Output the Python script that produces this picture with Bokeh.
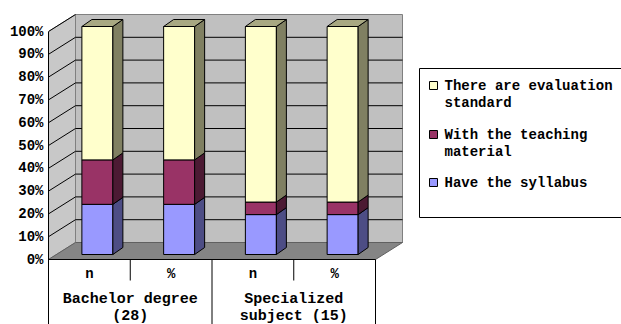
from bokeh.plotting import figure
from bokeh.models import Range1d, FixedTicker, PrintfTickFormatter, ColumnDataSource
from bokeh.core.properties import value
from bokeh.embed import file_html
from bokeh.resources import INLINE

# ---------------- data ----------------
categories = ["n", "%", "n", "%"]
group_labels = [["Bachelor degree", "(28)"], ["Specialized", "subject (15)"]]
series_names = ["Have the syllabus", "With the teaching material", "There are evaluation standard"]
legend_lines = [["There are evaluation", "standard"], ["With the teaching", "material"], ["Have the syllabus"]]
syllabus = [22.0, 22.0, 17.5, 17.5]
teaching = [19.5, 19.5, 5.5, 5.5]
evaluation = [58.5, 58.5, 77.0, 77.0]
y_ticks = [0, 10, 20, 30, 40, 50, 60, 70, 80, 90, 100]

front_colors = ["#9999FF", "#993366", "#FFFFCC"]
side_colors = ["#4D4D85", "#4C1A33", "#808062"]
top_color = "#A8A882"

# ---------------- geometry (layout) ----------------
W, H = 621, 324
LEFT = 48                 # frame starts where the front axis is
PX = 2.28                 # pixels per percent
FRONT0 = 259              # pixel row of 0% on the front plane
YTOP = FRONT0 / PX
YBOT = -(H - FRONT0) / PX
COL = 81.75               # width of one category column
NCOL = len(categories)
DX, DY = 27, 17 / PX      # depth of the box
BOX, BOY = 8, 5 / PX      # bar front offset
SX, SY = 10, 7 / PX       # bar side depth
BW = 31                   # bar width


def py(pix):
    return (FRONT0 - pix) / PX


def pxx(pix):
    return pix - LEFT


p = figure(width=W, height=H, output_backend="svg", toolbar_location=None,
           x_range=Range1d(0, W - LEFT), y_range=Range1d(YBOT, YTOP),
           x_axis_location=None, y_axis_location="left",
           min_border_left=LEFT, min_border_right=0, min_border_top=0, min_border_bottom=0)
p.outline_line_color = None
p.grid.visible = False
p.background_fill_color = "white"
p.border_fill_color = "white"

ax = p.yaxis[0]
ax.ticker = FixedTicker(ticks=y_ticks)
ax.formatter = PrintfTickFormatter(format="%d%%")
ax.bounds = (YBOT, 100)
ax.major_tick_out = 0
ax.major_tick_in = 0
ax.minor_tick_out = 0
ax.minor_tick_in = 0
ax.axis_line_color = "black"
ax.axis_line_width = 1
ax.major_label_standoff = 5
ax.major_label_text_font = "Liberation Mono"
ax.major_label_text_font_style = "bold"
ax.major_label_text_font_size = "14px"
ax.major_label_text_color = "black"

# ---------------- walls and floor ----------------
right = NCOL * COL
p.patch([0, 0, DX, DX], [0, 100, 100 + DY, DY], fill_color="#C8C8C8", line_color="#808080", line_width=1)
p.quad(left=DX, right=right + DX, bottom=DY, top=100 + DY, fill_color="#C0C0C0", line_color="#808080", line_width=1)
p.patch([0, right, right + DX, DX], [0, 0, DY, DY], fill_color="#858585", line_color="#606060", line_width=1)
p.segment(x0=0, y0=0, x1=right, y1=0, line_color="black", line_width=1)

grid_vals = [v for v in y_ticks if 0 < v < 100]
p.segment(x0=[DX] * len(grid_vals), y0=[v + DY for v in grid_vals],
          x1=[right + DX] * len(grid_vals), y1=[v + DY for v in grid_vals],
          line_color="black", line_width=1)
diag_vals = [v for v in y_ticks if v > 0]
p.segment(x0=[0] * len(diag_vals), y0=diag_vals,
          x1=[DX] * len(diag_vals), y1=[v + DY for v in diag_vals],
          line_color="black", line_width=1)

# ---------------- bars ----------------
fx, fy, fc, sx_, sy_, sc = [], [], [], [], [], []
tx, ty = [], []
series = [syllabus, teaching, evaluation]
for i in range(NCOL):
    L = (i + 0.5) * COL - BW / 2 + BOX
    R = L + BW
    bottom = 0.0
    for k, ser in enumerate(series):
        top = bottom + ser[i]
        b, t = bottom + BOY, top + BOY
        fx.append([L, R, R, L]); fy.append([b, b, t, t]); fc.append(front_colors[k])
        sx_.append([R, R + SX, R + SX, R]); sy_.append([b, b + SY, t + SY, t]); sc.append(side_colors[k])
        bottom = top
    tt = bottom + BOY
    tx.append([L, R, R + SX, L + SX]); ty.append([tt, tt, tt + SY, tt + SY])

p.patches(xs="xs", ys="ys", fill_color="c", line_color="black", line_width=1,
          source=ColumnDataSource(dict(xs=fx, ys=fy, c=fc)))
p.patches(xs="xs", ys="ys", fill_color="c", line_color="black", line_width=1,
          source=ColumnDataSource(dict(xs=sx_, ys=sy_, c=sc)))
p.patches(xs=tx, ys=ty, fill_color=top_color, line_color="black", line_width=1)

# ---------------- category table ----------------
short_x = [COL * (2 * g + 1) for g in range(len(group_labels))]
long_x = [COL * (2 * g + 2) for g in range(len(group_labels))]
p.segment(x0=short_x, y0=[0] * len(short_x), x1=short_x, y1=[py(280)] * len(short_x),
          line_color="black", line_width=1)
p.segment(x0=long_x, y0=[0] * len(long_x), x1=long_x, y1=[YBOT] * len(long_x),
          line_color="black", line_width=1)

txt = dict(text_font=value("Liberation Mono"), text_font_style="bold", text_color="black",
           text_align="center", text_baseline="middle")
p.text(x=[(i + 0.5) * COL for i in range(NCOL)], y=[py(273)] * NCOL, text=categories,
       text_font_size="14px", **txt)
gx, gy, gt = [], [], []
for g, lines in enumerate(group_labels):
    for j, line in enumerate(lines):
        gx.append(COL * (2 * g + 1)); gy.append(py(299 + 17 * j)); gt.append(line)
p.text(x=gx, y=gy, text=gt, text_font_size="15px", **txt)

# ---------------- legend ----------------
p.quad(left=pxx(419), right=pxx(660), bottom=py(217), top=py(68),
       fill_color="white", line_color="black", line_width=1)
item_rows = [85, 134, 182]
sq_colors = [front_colors[2], front_colors[1], front_colors[0]]
p.rect(x=[pxx(433)] * 3, y=[py(r) for r in item_rows], width=8, height=8,
       width_units="screen", height_units="screen", fill_color=sq_colors, line_color="black", line_width=1)
lx, ly, lt = [], [], []
for r, lines in zip(item_rows, legend_lines):
    for j, line in enumerate(lines):
        lx.append(pxx(444)); ly.append(py(r + 17 * j)); lt.append(line)
p.text(x=lx, y=ly, text=lt, text_font=value("Liberation Mono"), text_font_style="bold",
       text_color="black", text_align="left", text_baseline="middle", text_font_size="14px")

open("out.html", "w").write(file_html(p, INLINE))
